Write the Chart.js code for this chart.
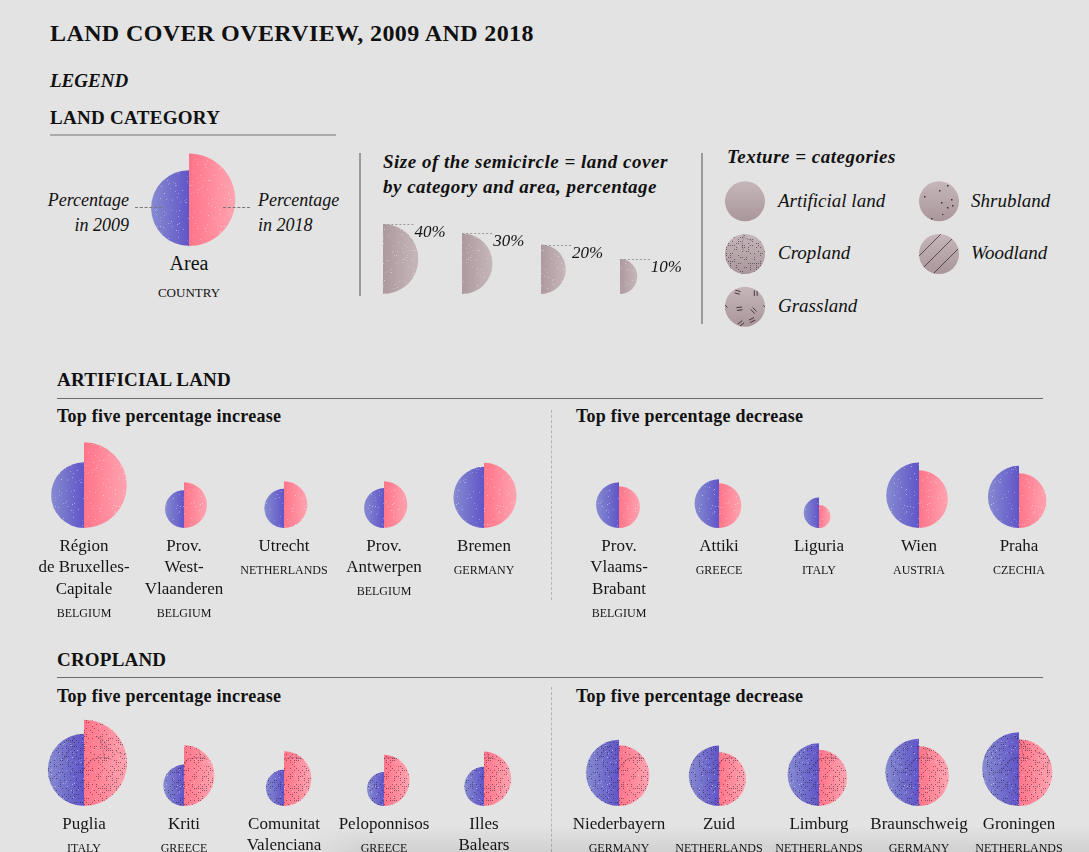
<!DOCTYPE html>
<html>
<head>
<meta charset="utf-8">
<title>Land cover overview, 2009 and 2018</title>
<script src="https://cdn.jsdelivr.net/npm/chart.js@4.4.1/dist/chart.umd.min.js"></script>
<style>
  html, body { margin: 0; padding: 0; background: #e3e3e3; overflow: hidden; }
  body { width: 1089px; height: 852px; position: relative; font-family: "Liberation Serif", serif; color: #111; }
  .t { position: absolute; white-space: nowrap; line-height: 1; }
  .b { font-weight: bold; }
  .i { font-style: italic; }
  .rule { position: absolute; }
  .dash { position: absolute; border-top: 1px dashed #777; height: 0; z-index: 2; }
  .vsep { position: absolute; width: 0; border-left: 1px dashed #b3b3b3; }
  canvas { position: absolute; }
  #shade { position: absolute; left: 300px; top: 826px; width: 789px; height: 26px; z-index: 3;
    background: linear-gradient(to bottom, rgba(0,0,0,0), rgba(0,0,0,0.08));
    -webkit-mask-image: linear-gradient(to right, transparent, #000 60px); }
</style>
</head>
<body>

<div class="t b" style="left:50px;top:21px;font-size:24px;letter-spacing:0.4px">LAND COVER OVERVIEW, 2009 AND 2018</div>
<div class="t b i" style="left:50px;top:71px;font-size:19px">LEGEND</div>
<div class="t b" style="left:50px;top:108px;font-size:19px;letter-spacing:0.3px">LAND CATEGORY</div>
<div class="rule" style="left:50px;top:134px;width:286px;height:2px;background:#ababab"></div>

<div class="t i" style="left:0;top:188px;width:129px;text-align:right;font-size:18px;line-height:25px">Percentage<br>in 2009</div>
<div class="t i" style="left:258px;top:188px;font-size:18px;line-height:25px">Percentage<br>in 2018</div>
<div class="dash" style="left:135px;top:207px;width:27px"></div>
<div class="dash" style="left:223px;top:207px;width:27px"></div>
<div class="t" style="left:139px;top:253px;width:100px;text-align:center;font-size:20px">Area</div>
<div class="t" style="left:139px;top:286px;width:100px;text-align:center;font-size:13px">COUNTRY</div>

<div class="rule" style="left:359px;top:153px;width:2px;height:143px;background:#9a9a9a"></div>
<div class="t b i" style="left:383px;top:149px;font-size:19px;line-height:25px;letter-spacing:0.5px">Size of the semicircle = land cover<br>by category and area, percentage</div>

<div class="rule" style="left:701px;top:153px;width:2px;height:171px;background:#9a9a9a"></div>
<div class="t b i" style="left:727px;top:147px;font-size:19px;letter-spacing:0.5px">Texture = categories</div>
<div class="t i" style="left:778px;top:191px;font-size:19px">Artificial land</div>
<div class="t i" style="left:778px;top:243px;font-size:19px">Cropland</div>
<div class="t i" style="left:778px;top:296px;font-size:19px">Grassland</div>
<div class="t i" style="left:971px;top:191px;font-size:19px">Shrubland</div>
<div class="t i" style="left:971px;top:243px;font-size:19px">Woodland</div>

<div class="t b" style="left:57px;top:370px;font-size:19px;letter-spacing:0.2px">ARTIFICIAL LAND</div>
<div class="rule" style="left:57px;top:398px;width:986px;height:1px;background:#6b6b6b"></div>
<div class="t b" style="left:57px;top:407px;font-size:18px;letter-spacing:0.25px">Top five percentage increase</div>
<div class="t b" style="left:576px;top:407px;font-size:18px;letter-spacing:0.25px">Top five percentage decrease</div>
<div class="vsep" style="left:551px;top:410px;height:190px"></div>

<div class="t b" style="left:57px;top:650px;font-size:19px;letter-spacing:0.2px">CROPLAND</div>
<div class="rule" style="left:57px;top:677px;width:986px;height:1px;background:#6b6b6b"></div>
<div class="t b" style="left:57px;top:687px;font-size:18px;letter-spacing:0.25px">Top five percentage increase</div>
<div class="t b" style="left:576px;top:687px;font-size:18px;letter-spacing:0.25px">Top five percentage decrease</div>
<div class="vsep" style="left:551px;top:687px;height:170px"></div>

<canvas id="legendPair" width="100" height="106" style="left:139px;top:140px"></canvas>
<canvas id="sizeLegend" width="394" height="84" style="left:344px;top:210px"></canvas>
<canvas id="textureLegend" width="388" height="158" style="left:648px;top:175px"></canvas>
<canvas id="artInc" width="500" height="208" style="left:34px;top:420px"></canvas>
<canvas id="artDec" width="500" height="208" style="left:569px;top:420px"></canvas>
<canvas id="cropInc" width="500" height="176" style="left:34px;top:700px"></canvas>
<canvas id="cropDec" width="500" height="176" style="left:569px;top:700px"></canvas>
<div id="shade"></div>

<script>
// legend sample (share of the area in 2009 and 2018, %)
const legend2009 = [47];
const legend2018 = [70];

// size key
const sizeSteps = [40, 30, 20, 10];
const sizeLabels = ["40%", "30%", "20%", "10%"];

// texture key (column / row of each swatch)
const textureNames = ["Artificial land", "Cropland", "Grassland", "Shrubland", "Woodland"];
const textureCol = [0, 0, 0, 1, 1];
const textureRow = [0, 1, 2, 0, 1];

// artificial land, top five increase
const artIncAreas = [["Région", "de Bruxelles-", "Capitale"], ["Prov.", "West-", "Vlaanderen"], ["Utrecht"], ["Prov.", "Antwerpen"], ["Bremen"]];
const artIncCountries = ["BELGIUM", "BELGIUM", "NETHERLANDS", "BELGIUM", "GERMANY"];
const artInc2009 = [35.4, 11.7, 12.6, 13.0, 30.6];
const artInc2018 = [60.0, 17.2, 17.9, 17.9, 34.7];

// artificial land, top five decrease
const artDecAreas = [["Prov.", "Vlaams-", "Brabant"], ["Attiki"], ["Liguria"], ["Wien"], ["Praha"]];
const artDecCountries = ["BELGIUM", "GREECE", "ITALY", "AUSTRIA", "CZECHIA"];
const artDec2009 = [17.2, 19.5, 7.6, 35.1, 31.6];
const artDec2018 = [14.3, 16.4, 4.3, 27.3, 24.6];

// cropland, top five increase
const cropIncAreas = [["Puglia"], ["Kriti"], ["Comunitat", "Valenciana"], ["Peloponnisos"], ["Illes", "Balears"]];
const cropIncCountries = ["ITALY", "GREECE", "SPAIN", "GREECE", "SPAIN"];
const cropInc2009 = [42.8, 14.0, 10.8, 9.4, 12.6];
const cropInc2018 = [60.9, 30.2, 24.6, 21.4, 24.2];

// cropland, top five decrease
const cropDecAreas = [["Niederbayern"], ["Zuid"], ["Limburg"], ["Braunschweig"], ["Groningen"]];
const cropDecCountries = ["GERMANY", "NETHERLANDS", "NETHERLANDS", "GERMANY", "NETHERLANDS"];
const cropDec2009 = [35.8, 29.8, 32.2, 36.9, 44.4];
const cropDec2018 = [30.2, 23.7, 25.8, 29.2, 36.4];

const SERIF = '"Liberation Serif", serif';
const INK = "#151515";
const K = 5.53; // radius in px per sqrt(percent) -> area follows the value
const rad = p => K * Math.sqrt(p);

// textures
function pattern(size, paint) {
  const c = document.createElement("canvas");
  c.width = c.height = size;
  const g = c.getContext("2d");
  paint(g, size);
  return g.createPattern(c, "repeat");
}
// fixed hash, only used to scatter texture marks
const hash = n => { const s = Math.sin(n * 12.9898 + 78.233) * 43758.5453; return s - Math.floor(s); };

const grain = pattern(64, (g, s) => {
  for (let i = 0; i < 110; i++) {
    g.fillStyle = `rgba(255,255,255,${0.18 + 0.3 * hash(i + 900)})`;
    g.fillRect(Math.floor(hash(i) * s), Math.floor(hash(i + 300) * s), 1, 1);
  }
});
const cropTex = pattern(96, (g, s) => {
  g.fillStyle = "rgba(35,20,45,0.5)";
  for (let y = 0; y < s; y += 2)
    for (let x = 0; x < s; x += 2)
      if (hash(y * s + x + 7) < 0.28) g.fillRect(x, y, 1, 1);
  // short field boundaries
  g.strokeStyle = "rgba(35,20,45,0.38)";
  g.lineWidth = 0.6;
  for (let j = 0; j < 12; j++) {
    let x = hash(j + 40) * s, y = hash(j + 80) * s, a = hash(j + 120) * Math.PI * 2;
    g.beginPath();
    g.moveTo(x, y);
    for (let k = 0; k < 5; k++) {
      a += (hash(j * 10 + k + 200) - 0.5) * 0.9;
      x += Math.cos(a) * 4; y += Math.sin(a) * 4;
      g.lineTo(x, y);
    }
    g.stroke();
  }
});
const grassTex = pattern(42, (g, s) => {
  g.strokeStyle = "rgba(40,25,40,0.9)";
  g.lineWidth = 0.9;
  const cell = s / 3;
  for (let r = 0; r < 3; r++) for (let q = 0; q < 3; q++) {
    const n = r * 3 + q;
    const cx = (q + 0.3 + 0.4 * hash(n + 11)) * cell;
    const cy = (r + 0.3 + 0.4 * hash(n + 23)) * cell;
    const a = hash(n + 37) * Math.PI;
    [-1.4, 1.4].forEach(o => {
      const ox = -Math.sin(a) * o, oy = Math.cos(a) * o;
      g.beginPath();
      g.moveTo(cx + ox - Math.cos(a) * 2.8, cy + oy - Math.sin(a) * 2.8);
      g.lineTo(cx + ox + Math.cos(a) * 2.8, cy + oy + Math.sin(a) * 2.8);
      g.stroke();
    });
  }
});
const shrubTex = pattern(40, (g, s) => {
  g.fillStyle = "rgba(40,25,40,0.85)";
  for (let i = 0; i < 9; i++) g.fillRect(Math.floor(hash(i + 51) * s), Math.floor(hash(i + 77) * s), 1.5, 1.5);
});
const woodTex = pattern(16, (g, s) => {
  g.strokeStyle = "rgba(40,25,40,0.85)";
  g.lineWidth = 0.8;
  g.beginPath();
  g.moveTo(0, s); g.lineTo(s, 0);
  g.moveTo(-2, 2); g.lineTo(2, -2);
  g.moveTo(s - 2, s + 2); g.lineTo(s + 2, s - 2);
  g.stroke();
});

// horizontal gradient of a half, darker at the flat edge
function sideFill(half, inner, outer) {
  return c => {
    const raw = c.raw, chart = c.chart;
    if (!raw || !chart.scales || !chart.scales.x) return inner;
    const px = chart.scales.x.getPixelForValue(raw.x);
    if (!isFinite(px) || !isFinite(raw.r)) return inner;
    const x0 = half === "left" ? px - raw.r : px + raw.r;
    const g = chart.ctx.createLinearGradient(x0, 0, px, 0);
    g.addColorStop(0, outer);
    g.addColorStop(1, inner);
    return g;
  };
}

// keep only the left or right half of every bubble of a dataset
const halfClip = {
  id: "halfClip",
  beforeDatasetDraw(chart, args) {
    const ds = chart.data.datasets[args.index];
    if (!ds.half) return;
    const ctx = chart.ctx;
    ctx.save();
    ctx.beginPath();
    chart.getDatasetMeta(args.index).data.forEach(el => {
      const px = Math.round(el.x), w = el.options.radius + 3;
      if (ds.half === "left") ctx.rect(px - w, 0, w, chart.height);
      else ctx.rect(px, 0, w, chart.height);
    });
    ctx.clip();
  },
  afterDatasetDraw(chart, args) {
    if (chart.data.datasets[args.index].half) chart.ctx.restore();
  }
};

// country under the area name
const countryLabels = {
  id: "countryLabels",
  afterDraw(chart, args, opts) {
    if (!opts.countries) return;
    const { ctx, scales: { x } } = chart;
    ctx.save();
    ctx.font = "12px " + SERIF;
    ctx.fillStyle = INK;
    ctx.textAlign = "center";
    ctx.textBaseline = "alphabetic";
    chart.data.labels.forEach((lines, i) => {
      const y = chart.chartArea.bottom + 24.6 + lines.length * 21.3;
      ctx.fillText(opts.countries[i], x.getPixelForValue(i), y);
    });
    ctx.restore();
  }
};

// "40%" tags of the size key
const sizeTags = {
  id: "sizeTags",
  afterDatasetsDraw(chart, args, opts) {
    const ctx = chart.ctx;
    ctx.save();
    chart.getDatasetMeta(0).data.forEach((el, i) => {
      const top = Math.round(el.y - el.options.radius) + 0.5;
      ctx.strokeStyle = "#9a9a9a";
      ctx.lineWidth = 1;
      ctx.setLineDash([2, 2]);
      ctx.beginPath();
      ctx.moveTo(el.x, top);
      ctx.lineTo(el.x + 30, top);
      ctx.stroke();
      ctx.font = "italic 17px " + SERIF;
      ctx.fillStyle = INK;
      ctx.textBaseline = "alphabetic";
      ctx.fillText(opts.labels[i], el.x + 31, top + 12);
    });
    ctx.restore();
  }
};

const BLUE_IN = "#6055c8", BLUE_OUT = "#868bd0";
const PINK_IN = "#ff7488", PINK_OUT = "#ffa4b0";
const TAUPE_IN = "#ad999e", TAUPE_OUT = "#c6b7ba";

const common = {
  responsive: false,
  animation: false,
  events: [],
  layout: { autoPadding: false, padding: 0 }
};

// higher order is painted first, so the base fill sits under the textures
function pairChart(id, areas, countries, v2009, v2018, textures, axisH) {
  const canvas = document.getElementById(id);
  const areaH = canvas.height - axisH;
  const pts = vals => vals.map((v, i) => ({ x: i, y: rad(v), r: rad(v) }));
  const layer = (vals, half, bg, order) => ({ data: pts(vals), half, backgroundColor: bg, borderWidth: 0, clip: false, order });
  const datasets = [layer(v2009, "left", sideFill("left", BLUE_IN, BLUE_OUT), 10)];
  textures.forEach((t, k) => datasets.push(layer(v2009, "left", t, 5 - k)));
  datasets.push(layer(v2018, "right", sideFill("right", PINK_IN, PINK_OUT), 10));
  textures.forEach((t, k) => datasets.push(layer(v2018, "right", t, 5 - k)));

  return new Chart(canvas, {
    type: "bubble",
    data: { labels: areas, datasets },
    options: {
      ...common,
      plugins: { legend: { display: false }, tooltip: { enabled: false }, countryLabels: { countries } },
      scales: {
        x: {
          type: "category",
          offset: true,
          display: axisH > 0,
          grid: { display: false, drawTicks: false },
          border: { display: false },
          ticks: { padding: 8, autoSkip: false, maxRotation: 0, color: INK, font: { family: SERIF, size: 17, lineHeight: 1.25 } },
          afterFit: s => { s.height = axisH; s.paddingLeft = 0; s.paddingRight = 0; }
        },
        y: { display: false, min: 0, max: areaH }
      }
    },
    plugins: [halfClip, countryLabels]
  });
}

pairChart("legendPair", [""], null, legend2009, legend2018, [grain], 0);
pairChart("artInc", artIncAreas, artIncCountries, artInc2009, artInc2018, [grain], 100);
pairChart("artDec", artDecAreas, artDecCountries, artDec2009, artDec2018, [grain], 100);
pairChart("cropInc", cropIncAreas, cropIncCountries, cropInc2009, cropInc2018, [grain, cropTex], 70);
pairChart("cropDec", cropDecAreas, cropDecCountries, cropDec2009, cropDec2018, [grain, cropTex], 70);

// size key: right halves only
const sizeCanvas = document.getElementById("sizeLegend");
const sizePts = sizeSteps.map((v, i) => ({ x: i, y: rad(v), r: rad(v) }));
new Chart(sizeCanvas, {
  type: "bubble",
  data: {
    datasets: [
      { data: sizePts, half: "right", backgroundColor: sideFill("right", TAUPE_IN, TAUPE_OUT), borderWidth: 0, clip: false, order: 10 },
      { data: sizePts, half: "right", backgroundColor: grain, borderWidth: 0, clip: false, order: 5 }
    ]
  },
  options: {
    ...common,
    plugins: { legend: { display: false }, tooltip: { enabled: false }, sizeTags: { labels: sizeLabels } },
    scales: {
      x: { type: "linear", min: -0.5, max: 4.5, display: false },
      y: { display: false, min: 0, max: sizeCanvas.height }
    }
  },
  plugins: [halfClip, sizeTags]
});

// texture key: full circles
const swatchR = 20;
const swatchPts = textureNames.map((n, i) => ({ x: textureCol[i], y: textureRow[i], r: swatchR }));
new Chart(document.getElementById("textureLegend"), {
  type: "bubble",
  data: {
    labels: textureNames,
    datasets: [
      {
        data: swatchPts, borderWidth: 0, clip: false, order: 10,
        backgroundColor: c => {
          const chart = c.chart;
          if (!c.raw || !chart.scales || !chart.scales.y) return TAUPE_OUT;
          const py = chart.scales.y.getPixelForValue(c.raw.y);
          if (!isFinite(py)) return TAUPE_OUT;
          const g = chart.ctx.createLinearGradient(0, py - swatchR, 0, py + swatchR);
          g.addColorStop(0, "#c5b6b9");
          g.addColorStop(1, "#a9969b");
          return g;
        }
      },
      { data: swatchPts, borderWidth: 0, clip: false, order: 5, backgroundColor: ["rgba(0,0,0,0)", cropTex, grassTex, shrubTex, woodTex] }
    ]
  },
  options: {
    ...common,
    plugins: { legend: { display: false }, tooltip: { enabled: false } },
    scales: {
      x: { type: "linear", min: -0.5, max: 1.5, display: false },
      y: { type: "linear", min: -0.5, max: 2.5, reverse: true, display: false }
    }
  }
});
</script>
</body>
</html>
